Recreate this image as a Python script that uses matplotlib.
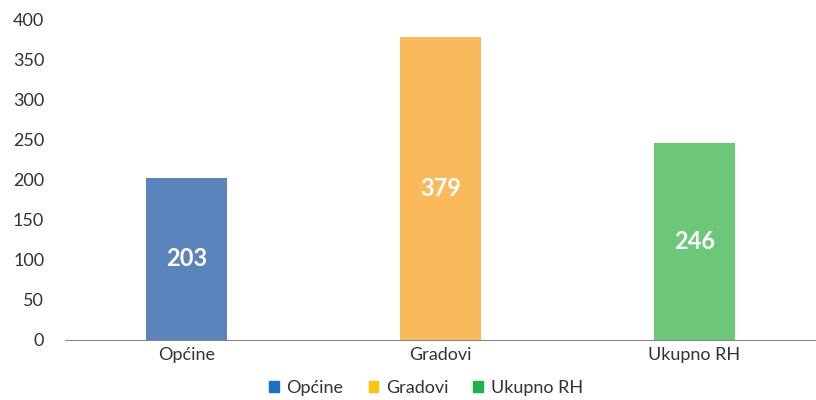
import matplotlib.pyplot as plt
from matplotlib.patches import Patch

categories = ["Općine", "Gradovi", "Ukupno RH"]
values = [203, 379, 246]
bar_colors = ["#5b84bd", "#fab95a", "#6cc878"]
legend_colors = ["#1a72c4", "#fcc30b", "#1fb14c"]
yticks = [0, 50, 100, 150, 200, 250, 300, 350, 400]

plt.rcParams["font.family"] = ["Lato", "DejaVu Sans"]

fig = plt.figure(figsize=(8.16, 4.0), dpi=100)
ax = fig.add_axes([0.0797, 0.15, 0.9203, 0.8])

x = range(len(categories))
bars = ax.bar(x, values, width=0.32, color=bar_colors, zorder=2)

for rect, v in zip(bars, values):
    ax.text(rect.get_x() + rect.get_width() / 2, v / 2, str(v),
            ha="center", va="center", color="white", fontsize=17, fontweight="bold")

ax.set_xlim(-0.48, 2.48)
ax.set_ylim(0, 400)
ax.set_yticks(yticks)
ax.set_xticks(list(x))
ax.set_xticklabels(categories)
ax.tick_params(axis="both", length=0, labelsize=13, colors="#333333")
ax.tick_params(axis="y", pad=15)
ax.tick_params(axis="x", pad=5)

for side in ["top", "right", "left"]:
    ax.spines[side].set_visible(False)
ax.spines["bottom"].set_color("#888888")

handles = [Patch(color=c, label=l) for c, l in zip(legend_colors, categories)]
fig.legend(handles=handles, loc="lower center", bbox_to_anchor=(0.522, -0.03), ncol=3,
           frameon=False, fontsize=13, handlelength=0.55, handleheight=0.55,
           handletextpad=0.4, columnspacing=1.4, labelcolor="#333333")

fig.savefig("out.png", dpi=100)
